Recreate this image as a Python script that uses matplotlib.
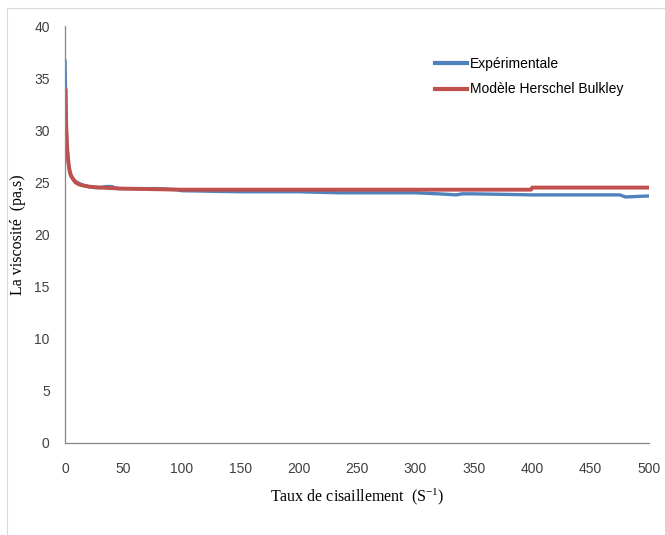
import matplotlib
matplotlib.use("Agg")
import matplotlib.pyplot as plt
from matplotlib.lines import Line2D

plt.rcParams['mathtext.fontset'] = 'custom'
plt.rcParams['mathtext.rm'] = 'Liberation Serif'

# shear rate (1/s) and viscosity (Pa.s)
exp_x = [0, 0.3, 0.7, 1, 1.5, 2, 3, 4, 5, 7, 9, 12, 16, 20, 25, 30, 35, 40, 45, 50, 60, 80, 95, 100,
         150, 200, 235, 250, 300, 320, 335, 340, 350, 400, 450, 475, 480, 500]
exp_y = [36.8, 35.0, 32.0, 30.5, 29.0, 28.0, 26.8, 26.0, 25.6, 25.3, 25.1, 24.9, 24.7, 24.6, 24.5, 24.5, 24.6, 24.6, 24.4, 24.4, 24.4, 24.4, 24.3, 24.2,
         24.1, 24.1, 24.0, 24.0, 24.0, 23.9, 23.8, 23.9, 23.9, 23.8, 23.8, 23.8, 23.6, 23.7]

model_x = [0.5, 0.8, 1, 1.5, 2, 3, 4, 5, 7, 9, 12, 16, 20, 30, 50, 100, 200, 300, 399, 400, 500]
model_y = [34.0, 31.5, 30.5, 29.0, 28.0, 26.8, 26.1, 25.7, 25.3, 25.0, 24.8, 24.7, 24.6, 24.5, 24.4, 24.3, 24.3, 24.3, 24.3, 24.5, 24.5]

blue = '#4F81BD'
red = '#C0504D'

fig = plt.figure(figsize=(6.65, 5.35), dpi=100)
ax = fig.add_axes([65/665, 1-443/535, 584/665, 417/535])

ax.plot(exp_x, exp_y, color=blue, lw=2.4, solid_capstyle='butt')
ax.plot(model_x, model_y, color=red, lw=2.8, solid_capstyle='butt')

ax.set_xlim(0, 500)
ax.set_ylim(0, 40)
ax.set_xticks(range(0, 501, 50))
ax.set_yticks(range(0, 41, 5))
for s in ['top', 'right']:
    ax.spines[s].set_visible(False)
for s in ['left', 'bottom']:
    ax.spines[s].set_color('#868686')
    ax.spines[s].set_linewidth(0.9)
ax.tick_params(length=0, labelsize=10, colors='#404040', labelfontfamily='Liberation Sans')
ax.tick_params(axis='x', pad=14)
ax.tick_params(axis='y', pad=11)

ax.set_xlabel('Taux de cisaillement  ($\\mathrm{S^{-1}}$)', family='Liberation Serif', fontsize=11.5, labelpad=7)
ax.set_ylabel('La viscosité  (pa,s)', family='Liberation Serif', fontsize=11.5)
ax.yaxis.set_label_coords(-0.066, 0.5)

handles = [Line2D([], [], color=blue, lw=3), Line2D([], [], color=red, lw=3)]
ax.legend(handles, ['Expérimentale', 'Modèle Herschel Bulkley'], loc='upper left',
          bbox_to_anchor=(0.612, 0.955), frameon=False, handlelength=2.3, handletextpad=0.2,
          labelspacing=0.8, prop={'family': 'Liberation Sans', 'size': 10})

# thin outer frame of the chart area
fig.add_artist(Line2D([7/665, 7/665], [0, 1-8/535], transform=fig.transFigure, color='#d9d9d9', lw=0.8))
fig.add_artist(Line2D([7/665, 1], [1-8/535, 1-8/535], transform=fig.transFigure, color='#d9d9d9', lw=0.8))

fig.savefig('out.png', dpi=100)
